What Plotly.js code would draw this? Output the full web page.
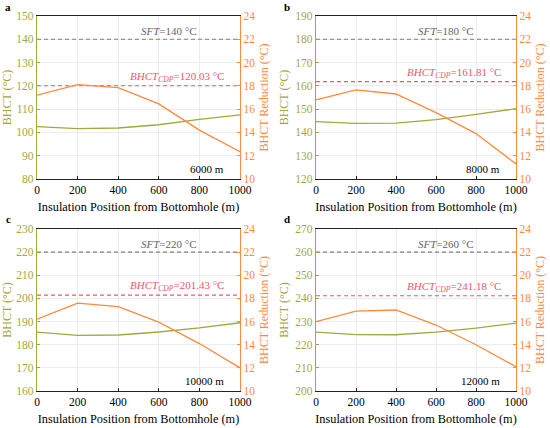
<!DOCTYPE html>
<html><head><meta charset="utf-8">
<script src="https://cdn.plot.ly/plotly-3.0.1.min.js"></script>
<style>html,body{margin:0;padding:0;background:#fff}#chart{width:550px;height:428px}</style>
</head><body><div id="chart"></div>
<script>
const positions = [0, 200, 400, 600, 800, 1000];
const depthLabels = ['6000 m', '8000 m', '10000 m', '12000 m'];
const panelLabels = ['a', 'b', 'c', 'd'];
const bhctA = [102.5, 101.6, 101.9, 103.3, 105.6, 107.5];
const bhctB = [144.6, 143.9, 144.0, 145.5, 147.8, 150.2];
const bhctC = [185.4, 184.0, 184.2, 185.5, 187.3, 189.5];
const bhctD = [225.4, 224.4, 224.3, 225.4, 227.2, 229.3];
const reductionA = [17.2, 18.1, 17.85, 16.45, 14.2, 12.35];
const reductionB = [16.8, 17.65, 17.3, 15.7, 13.9, 11.3];
const reductionC = [16.2, 17.6, 17.3, 15.95, 14.1, 12.0];
const reductionD = [16.0, 16.9, 17.0, 15.7, 14.0, 12.1];
const sftValues = [140, 180, 220, 260];
const cdpValues = [120.03, 161.81, 201.43, 241.18];
const leftRanges = [[80, 150], [120, 190], [160, 230], [200, 270]];
const rightRange = [10, 24];

const bhctSeries = [bhctA, bhctB, bhctC, bhctD];
const reductionSeries = [reductionA, reductionB, reductionC, reductionD];

const OLIVE = '#a3a83c';
const ORANGE = '#ff8a3d';
const GRAY = '#7f7f7f';
const RED = '#f0566e';
const FONT = 'Liberation Serif';

const W = 550, H = 428;
const xDomains = [[37 / W, 240 / W], [316 / W, 516 / W]];
const yDomains = [[1 - 179 / H, 1 - 16 / H], [1 - 391 / H, 1 - 229 / H]];

const data = [];
const layout = {
  width: W, height: H,
  margin: {l: 0, r: 0, t: 0, b: 0},
  paper_bgcolor: '#fff', plot_bgcolor: '#fff',
  showlegend: false,
  font: {family: FONT, size: 11, color: '#000'},
  annotations: [], shapes: []
};

for (let p = 0; p < 4; p++) {
  const col = p % 2, row = Math.floor(p / 2);
  const xi = p + 1, yl = 2 * p + 1, yr = 2 * p + 2;
  const xk = 'x' + xi, ylk = 'y' + yl, yrk = 'y' + yr;
  const xName = 'xaxis' + xi, ylName = 'yaxis' + yl, yrName = 'yaxis' + yr;

  layout[xName] = {
    domain: xDomains[col], anchor: ylk, range: [0, 1000], dtick: 200, tick0: 0,
    showline: true, linecolor: '#222', linewidth: 1, mirror: true,
    ticks: 'inside', ticklen: 3, tickcolor: '#222',
    showgrid: true, gridcolor: '#ececec', zeroline: false,
    tickfont: {family: FONT, size: 11.5, color: '#000'},
    title: {text: 'Insulation Position from Bottomhole (m)', font: {family: FONT, size: 12.3, color: '#000'}, standoff: 7}
  };
  layout[ylName] = {
    domain: yDomains[row], anchor: xk, range: leftRanges[p], dtick: 10,
    showline: true, linecolor: OLIVE, linewidth: 1.2,
    ticks: 'inside', ticklen: 3, tickcolor: OLIVE,
    showgrid: true, gridcolor: '#ececec', zeroline: false,
    tickfont: {family: FONT, size: 11.5, color: OLIVE},
    title: {text: 'BHCT (°C)', font: {family: FONT, size: 12, color: OLIVE}, standoff: 4}
  };
  layout[yrName] = {
    overlaying: ylk, side: 'right', anchor: xk, range: rightRange, dtick: 2,
    showline: true, linecolor: ORANGE, linewidth: 1.2,
    ticks: 'inside', ticklen: 3, tickcolor: ORANGE,
    showgrid: false, zeroline: false,
    tickfont: {family: FONT, size: 11.5, color: ORANGE},
    title: {text: 'BHCT Reduction (°C)', font: {family: FONT, size: 12, color: ORANGE}, standoff: 5}
  };

  data.push({
    x: positions, y: bhctSeries[p], xaxis: xk, yaxis: ylk,
    type: 'scatter', mode: 'lines', line: {color: OLIVE, width: 1.3}
  });
  data.push({
    x: positions, y: reductionSeries[p], xaxis: xk, yaxis: yrk,
    type: 'scatter', mode: 'lines', line: {color: ORANGE, width: 1.3}
  });
  data.push({
    x: [positions[0], positions[positions.length - 1]], y: [sftValues[p], sftValues[p]],
    xaxis: xk, yaxis: ylk, type: 'scatter', mode: 'lines',
    line: {color: GRAY, width: 1.1, dash: '4px,3px'}
  });
  data.push({
    x: [positions[0], positions[positions.length - 1]], y: [cdpValues[p], cdpValues[p]],
    xaxis: xk, yaxis: ylk, type: 'scatter', mode: 'lines',
    line: {color: RED, width: 1.1, dash: '4px,3px'}
  });

  layout.annotations.push({
    xref: xk, yref: ylk, x: 650, y: sftValues[p], yanchor: 'bottom', xanchor: 'center',
    yshift: 0, showarrow: false,
    text: '<i>SFT</i>=' + sftValues[p] + ' °C',
    font: {family: FONT, size: 11, color: '#666'}
  });
  layout.annotations.push({
    xref: xk, yref: ylk, x: 690, y: cdpValues[p], yanchor: 'bottom', xanchor: 'center',
    yshift: 0, showarrow: false,
    text: '<i>BHCT</i><sub><i>CDP</i></sub>=' + cdpValues[p].toFixed(2) + ' °C',
    font: {family: FONT, size: 11, color: RED}
  });
  layout.annotations.push({
    xref: xk + ' domain', yref: ylk + ' domain', x: 0.93, y: 0.01,
    xanchor: 'right', yanchor: 'bottom', showarrow: false,
    text: depthLabels[p], font: {family: FONT, size: 11, color: '#000'}
  });
  layout.annotations.push({
    xref: 'paper', yref: 'paper',
    x: (col === 0 ? 8 : 287) / W, y: 1 - (row === 0 ? 7 : 219) / H,
    xanchor: 'center', yanchor: 'middle', showarrow: false,
    text: '<b>' + panelLabels[p] + '</b>', font: {family: FONT, size: 11, color: '#000'}
  });
}

Plotly.newPlot('chart', data, layout, {displayModeBar: false, staticPlot: true});
</script></body></html>
